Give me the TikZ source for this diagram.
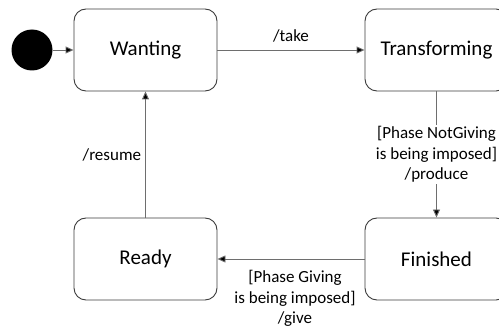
\documentclass[tikz,border=0pt]{standalone}
\usepackage{fontspec}
\setmainfont{Carlito}
\usetikzlibrary{arrows.meta}
\definecolor{linec}{HTML}{6E6E6E}
\definecolor{boxc}{HTML}{3C3C3C}
\begin{document}
\begin{tikzpicture}[x=1pt,y=-1pt,
  state/.style={draw=boxc,line width=0.9pt,rounded corners=12pt,minimum width=143pt,minimum height=82pt,inner sep=0pt,font=\fontsize{21}{24}\selectfont,text=black},
  trans/.style={draw=linec,line width=0.9pt,-{Triangle[length=8pt,width=7pt,fill=black]}},
  lbl/.style={font=\fontsize{17}{20.5}\selectfont,text=black,align=center,inner sep=1pt}]
\useasboundingbox (0,0) rectangle (499,334);
\clip (0,0) rectangle (499,334);
\node[circle,fill=black,minimum size=41pt,inner sep=0pt] (init) at (32,50) {};
\node[state] (want) at (145.5,50) {Wanting};
\node[state] (trans) at (436.5,50) {Transforming};
\node[state] (fin) at (436.5,259) {Finished};
\node[state] (ready) at (145.5,259) {Ready};
\draw[trans] (init) -- (want);
\draw[trans] (want) -- node[lbl,above=6pt] {/take} (trans);
\draw[trans] (trans) -- node[lbl,fill=white,pos=0.5] {[Phase NotGiving\\is being imposed]\\/produce} (fin);
\draw[trans] (fin) -- node[lbl,below=10pt,xshift=4pt] {[Phase Giving\\is being imposed]\\/give} (ready);
\draw[trans] (ready) -- node[lbl,left=3pt,pos=0.5] {/resume} (want);
\end{tikzpicture}
\end{document}
